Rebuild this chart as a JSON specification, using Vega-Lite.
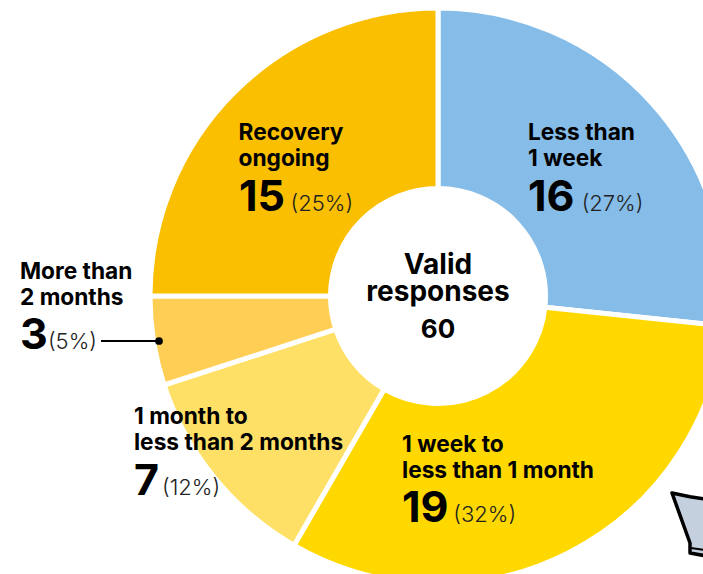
{"$schema":"https://vega.github.io/schema/vega-lite/v6.json","width":876,"height":592,"padding":0,"autosize":{"type":"none"},"background":"white","view":{"stroke":null},"datasets":{"slices":[{"name":"Less than\n1 week","count":16,"pct":"(27%)","rank":1},{"name":"1 week to\nless than 1 month","count":19,"pct":"(32%)","rank":2},{"name":"1 month to\nless than 2 months","count":7,"pct":"(12%)","rank":3},{"name":"More than\n2 months","count":3,"pct":"(5%)","rank":4},{"name":"Recovery\nongoing","count":15,"pct":"(25%)","rank":5}]},"layer":[{"data":{"name":"slices"},"mark":{"type":"arc","outerRadius":288,"innerRadius":107.5,"stroke":"white","strokeWidth":5},"encoding":{"theta":{"field":"count","type":"quantitative","stack":true,"scale":{"domain":[0,60]}},"order":{"field":"rank","type":"ordinal"},"color":{"field":"rank","type":"nominal","legend":null,"scale":{"domain":[1,2,3,4,5],"range":["#85BCE8","#FFD800","#FFE066","#FFCE54","#F9BF00"]}}}},{"data":{"name":"slices"},"encoding":{"theta":{"field":"count","type":"quantitative","stack":true,"scale":{"domain":[0,60]}},"order":{"field":"rank","type":"ordinal"}},"layer":[{"mark":{"type":"text","radius":200,"align":"left","baseline":"alphabetic","dx":-58.6,"dy":-22,"font":"Inter","fontWeight":700,"fontSize":22.7,"lineHeight":26,"lineBreak":"\n","fill":"#000"},"encoding":{"text":{"condition":{"test":"datum.rank==1","field":"name"},"value":""}}},{"mark":{"type":"text","radius":200,"align":"left","baseline":"alphabetic","dx":-58.6,"dy":49,"font":"Inter","fontWeight":700,"fontSize":43,"fill":"#000"},"encoding":{"text":{"condition":{"test":"datum.rank==1","field":"count"},"value":""}}},{"mark":{"type":"text","radius":200,"align":"left","baseline":"alphabetic","dx":-5,"dy":49,"font":"Inter","fontWeight":300,"fontSize":22,"fill":"#222"},"encoding":{"text":{"condition":{"test":"datum.rank==1","field":"pct"},"value":""}}},{"mark":{"type":"text","radius":200,"align":"left","baseline":"alphabetic","dx":-126.8,"dy":-22.2,"font":"Inter","fontWeight":700,"fontSize":22.7,"lineHeight":26,"lineBreak":"\n","fill":"#000"},"encoding":{"text":{"condition":{"test":"datum.rank==2","field":"name"},"value":""}}},{"mark":{"type":"text","radius":200,"align":"left","baseline":"alphabetic","dx":-126.8,"dy":47.8,"font":"Inter","fontWeight":700,"fontSize":43,"fill":"#000"},"encoding":{"text":{"condition":{"test":"datum.rank==2","field":"count"},"value":""}}},{"mark":{"type":"text","radius":200,"align":"left","baseline":"alphabetic","dx":-75.5,"dy":47.8,"font":"Inter","fontWeight":300,"fontSize":22,"fill":"#222"},"encoding":{"text":{"condition":{"test":"datum.rank==2","field":"pct"},"value":""}}},{"mark":{"type":"text","radius":200,"align":"left","baseline":"alphabetic","dx":-148.6,"dy":2.1,"font":"Inter","fontWeight":700,"fontSize":22.7,"lineHeight":26,"lineBreak":"\n","fill":"#000"},"encoding":{"text":{"condition":{"test":"datum.rank==3","field":"name"},"value":""}}},{"mark":{"type":"text","radius":200,"align":"left","baseline":"alphabetic","dx":-148.6,"dy":73,"font":"Inter","fontWeight":700,"fontSize":43,"fill":"#000"},"encoding":{"text":{"condition":{"test":"datum.rank==3","field":"count"},"value":""}}},{"mark":{"type":"text","radius":200,"align":"left","baseline":"alphabetic","dx":-120.6,"dy":73,"font":"Inter","fontWeight":300,"fontSize":22,"fill":"#222"},"encoding":{"text":{"condition":{"test":"datum.rank==3","field":"pct"},"value":""}}},{"mark":{"type":"text","radius":200,"align":"left","baseline":"alphabetic","dx":-220.5,"dy":-48.3,"font":"Inter","fontWeight":700,"fontSize":22.7,"lineHeight":26,"lineBreak":"\n","fill":"#000"},"encoding":{"text":{"condition":{"test":"datum.rank==4","field":"name"},"value":""}}},{"mark":{"type":"text","radius":200,"align":"left","baseline":"alphabetic","dx":-220.5,"dy":21.7,"font":"Inter","fontWeight":700,"fontSize":43,"fill":"#000"},"encoding":{"text":{"condition":{"test":"datum.rank==4","field":"count"},"value":""}}},{"mark":{"type":"text","radius":200,"align":"left","baseline":"alphabetic","dx":-192.5,"dy":21.7,"font":"Inter","fontWeight":300,"fontSize":22,"fill":"#222"},"encoding":{"text":{"condition":{"test":"datum.rank==4","field":"pct"},"value":""}}},{"mark":{"type":"text","radius":200,"align":"left","baseline":"alphabetic","dx":-58,"dy":-14.6,"font":"Inter","fontWeight":700,"fontSize":22.7,"lineHeight":26.5,"lineBreak":"\n","fill":"#000"},"encoding":{"text":{"condition":{"test":"datum.rank==5","field":"name"},"value":""}}},{"mark":{"type":"text","radius":200,"align":"left","baseline":"alphabetic","dx":-57.6,"dy":56.4,"font":"Inter","fontWeight":700,"fontSize":43,"fill":"#000"},"encoding":{"text":{"condition":{"test":"datum.rank==5","field":"count"},"value":""}}},{"mark":{"type":"text","radius":200,"align":"left","baseline":"alphabetic","dx":-6,"dy":56.4,"font":"Inter","fontWeight":300,"fontSize":22,"fill":"#222"},"encoding":{"text":{"condition":{"test":"datum.rank==5","field":"pct"},"value":""}}}]},{"data":{"values":[{"label":"Valid\nresponses","total":60}]},"layer":[{"mark":{"type":"text","align":"center","baseline":"alphabetic","dy":-22,"font":"Inter","fontWeight":700,"fontSize":28,"lineHeight":27,"lineBreak":"\n","fill":"#000"},"encoding":{"text":{"field":"label"}}},{"mark":{"type":"text","align":"center","baseline":"alphabetic","dy":42,"font":"Inter","fontWeight":700,"fontSize":26,"fill":"#000"},"encoding":{"text":{"field":"total"}}}]},{"data":{"values":[{"px":101,"py":341,"part":"leader"},{"px":159,"py":341,"part":"leader"}]},"layer":[{"mark":{"type":"line","stroke":"#000","strokeWidth":2},"encoding":{"x":{"field":"px","type":"quantitative","scale":{"domain":[0,876],"nice":false,"zero":false},"axis":null},"y":{"field":"py","type":"quantitative","scale":{"domain":[592,0],"nice":false,"zero":false},"axis":null}}}]},{"data":{"values":[{"px":159,"py":341}]},"mark":{"type":"point","filled":true,"fill":"#000","opacity":1,"size":60},"encoding":{"x":{"field":"px","type":"quantitative","scale":{"domain":[0,876],"nice":false,"zero":false},"axis":null},"y":{"field":"py","type":"quantitative","scale":{"domain":[592,0],"nice":false,"zero":false},"axis":null}}},{"data":{"values":[{"px":672,"top":493,"bottom":493},{"px":690,"top":496.8,"bottom":543},{"px":690,"top":496.8,"bottom":553},{"px":712,"top":500,"bottom":557}]},"mark":{"type":"area","orient":"vertical","fill":"#C5D0DE","stroke":"#000","strokeWidth":3.5,"strokeJoin":"round"},"encoding":{"x":{"field":"px","type":"quantitative","scale":{"domain":[0,876],"nice":false,"zero":false},"axis":null},"y":{"field":"top","type":"quantitative","stack":null,"scale":{"domain":[592,0],"nice":false,"zero":false},"axis":null},"y2":{"field":"bottom"}}},{"data":{"values":[{"px":691,"py":548},{"px":712,"py":551}]},"mark":{"type":"line","stroke":"#000","strokeWidth":2},"encoding":{"x":{"field":"px","type":"quantitative","scale":{"domain":[0,876],"nice":false,"zero":false},"axis":null},"y":{"field":"py","type":"quantitative","scale":{"domain":[592,0],"nice":false,"zero":false},"axis":null}}}]}
